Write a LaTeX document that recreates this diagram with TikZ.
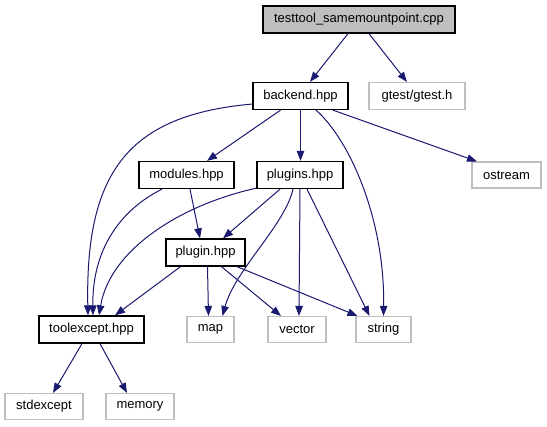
\documentclass[tikz,border=0pt]{standalone}
\usepackage{fontspec}
\setmainfont{Liberation Sans}
\usetikzlibrary{arrows.meta}
\definecolor{edgeblue}{HTML}{191970}
\definecolor{boxgray}{HTML}{BFBFBF}
\begin{document}
\begin{tikzpicture}[x=1pt,y=-1pt,
  every node/.style={font=\fontsize{13pt}{15pt}\selectfont, inner sep=0pt, minimum height=27pt, anchor=center},
  docbox/.style={draw=black, line width=1.3pt},
  extbox/.style={draw=boxgray, line width=1.1pt},
  mainbox/.style={draw=black, fill=boxgray, line width=1.3pt},
  edge/.style={draw=edgeblue, line width=1pt, -{Triangle[length=10pt,width=7.5pt]}}]
\useasboundingbox (0,0) rectangle (547,427);
\node[mainbox, minimum width=192pt] (main) at (359,19.5) {testtool\_samemountpoint.cpp};
\node[extbox, minimum width=96pt] (gtest) at (417,96) {gtest/gtest.h};
\node[docbox, minimum width=95pt] (backend) at (300.5,96) {backend.hpp};
\node[extbox, minimum width=69pt, minimum height=26pt] (ostream) at (506.5,175) {ostream};
\node[docbox, minimum width=86pt] (plugins) at (300,175) {plugins.hpp};
\node[docbox, minimum width=95pt] (modules) at (186.5,175) {modules.hpp};
\node[docbox, minimum width=79pt] (plugin) at (205.5,252.5) {plugin.hpp};
\node[docbox, minimum width=105pt] (toolexcept) at (91.5,329.5) {toolexcept.hpp};
\node[extbox, minimum width=47pt, minimum height=26pt] (map) at (210.5,329.5) {map};
\node[extbox, minimum width=58pt, minimum height=26pt] (vector) at (297,329.5) {vector};
\node[extbox, minimum width=55pt, minimum height=26pt] (string) at (383.5,329.5) {string};
\node[extbox, minimum width=78pt, minimum height=26pt] (stdexcept) at (44,406.5) {stdexcept};
\node[extbox, minimum width=68pt, minimum height=26pt] (memory) at (140,406.5) {memory};

\path[edge] ([xshift=-11pt]main.south) -- ([xshift=9.5pt]backend.north);
\path[edge] ([xshift=10pt]main.south) -- ([xshift=-10pt]gtest.north);

\path[edge] ([yshift=-8pt]backend.west) .. controls (130,115) and (85,170) .. ([xshift=-3.5pt]toolexcept.north);
\path[edge] ([xshift=-20pt]backend.south) -- ([xshift=20.5pt]modules.north);
\path[edge] (backend.south) -- ([xshift=0.5pt]plugins.north);
\path[edge] ([xshift=15.5pt]backend.south) .. controls (350,140) and (385,220) .. (string.north);
\path[edge] ([xshift=32.5pt]backend.south) -- ([xshift=-29.5pt]ostream.north);

\path[edge] ([xshift=-24.5pt]modules.south) .. controls (120,210) and (92,250) .. ([xshift=1.5pt]toolexcept.north);
\path[edge] ([xshift=3.5pt]modules.south) -- ([xshift=-5.5pt]plugin.north);

\path[edge] ([xshift=-20pt]plugins.south) -- ([xshift=17.5pt]plugin.north);
\path[edge] ([yshift=1pt]plugins.south west) .. controls (180,205) and (110,250) .. ([xshift=7.5pt]toolexcept.north);
\path[edge] ([xshift=-7pt]plugins.south) .. controls (285,225) and (235,270) .. ([xshift=12pt]map.north);
\path[edge] (plugins.south) -- ([xshift=2pt]vector.north);
\path[edge] ([xshift=7pt]plugins.south) -- ([xshift=-14pt]string.north);

\path[edge] ([xshift=-25pt]plugin.south) -- ([xshift=23.5pt]toolexcept.north);
\path[edge] ([xshift=2pt]plugin.south) -- ([xshift=-2pt]map.north);
\path[edge] ([xshift=16pt]plugin.south) -- ([xshift=-16pt]vector.north);
\path[edge] ([xshift=31.5pt]plugin.south) -- ([xshift=-26pt]string.north);

\path[edge] ([xshift=-9.5pt]toolexcept.south) -- ([xshift=9pt]stdexcept.north);
\path[edge] ([xshift=8.5pt]toolexcept.south) -- ([xshift=-13pt]memory.north);
\end{tikzpicture}
\end{document}
